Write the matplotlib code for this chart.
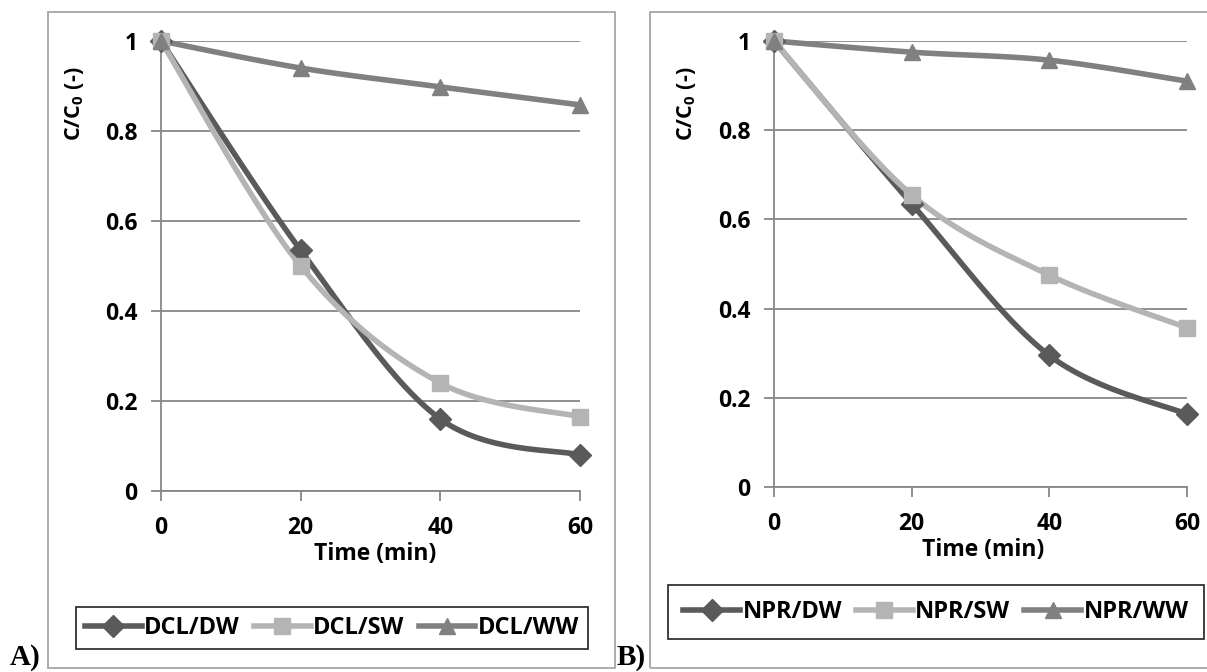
import matplotlib.pyplot as plt
import numpy as np
from matplotlib.patches import Rectangle

W, H = 1207, 672

time = [0, 20, 40, 60]

# panel A - DCL
dcl_dw = [1.0, 0.535, 0.16, 0.08]
dcl_sw = [1.0, 0.50, 0.24, 0.165]
dcl_ww = [1.0, 0.94, 0.898, 0.858]

# panel B - NPR
npr_dw = [1.0, 0.635, 0.295, 0.163]
npr_sw = [1.0, 0.655, 0.475, 0.357]
npr_ww = [1.0, 0.975, 0.957, 0.91]

yticks = [0, 0.2, 0.4, 0.6, 0.8, 1]
ytick_labels = ['0', '0.2', '0.4', '0.6', '0.8', '1']

c_dw = '#5a5a5a'
c_sw = '#b4b4b4'
c_ww = '#808080'
c_grid = '#878787'

plt.rcParams['font.family'] = ['Open Sans', 'DejaVu Sans']
plt.rcParams['font.weight'] = 'bold'
plt.rcParams['mathtext.fontset'] = 'custom'
plt.rcParams['mathtext.bf'] = 'Open Sans:bold'
plt.rcParams['mathtext.rm'] = 'Open Sans:bold'


def smooth(x, y, n=40):
  # Catmull-Rom like Excel's smoothed line
  x = np.asarray(x, float)
  y = np.asarray(y, float)
  px_ = np.concatenate([[x[0]], x, [x[-1]]])
  py_ = np.concatenate([[y[0]], y, [y[-1]]])
  xs, ys = [], []
  for i in range(1, len(px_) - 2):
    t = np.linspace(0, 1, n)
    p0, p1, p2, p3 = [np.array([px_[j], py_[j]]) for j in (i - 1, i, i + 1, i + 2)]
    b1 = p1 + (p2 - p0) / 6
    b2 = p2 - (p3 - p1) / 6
    pts = ((1 - t) ** 3)[:, None] * p1 + (3 * (1 - t) ** 2 * t)[:, None] * b1 \
        + (3 * (1 - t) * t ** 2)[:, None] * b2 + (t ** 3)[:, None] * p2
    xs.extend(pts[:, 0])
    ys.extend(pts[:, 1])
  return xs, ys


def fig_box(x0, y0, x1, y1):
  # pixel box (top-left origin) -> figure fraction [l, b, w, h]
  return [x0 / W, 1 - y1 / H, (x1 - x0) / W, (y1 - y0) / H]


fig = plt.figure(figsize=(W / 100, H / 100), dpi=100)

# panel frames
for (x0, y0, x1, y1) in [(48, 12, 615, 668), (650, 12, 1215, 668)]:
  fig.patches.append(Rectangle((x0 / W, 1 - y1 / H), (x1 - x0) / W, (y1 - y0) / H,
                               transform=fig.transFigure, fill=False,
                               edgecolor='#a6a6a6', lw=1.3))

panels = [
  dict(box=(161, 41, 580, 491), series=[(dcl_dw, 'DCL/DW'), (dcl_sw, 'DCL/SW'), (dcl_ww, 'DCL/WW')],
       ylab=(75, 103), xlab=(375, 554), leg=(332, 628), legpad=0.4, tag=(10, 'A)')),
  dict(box=(774, 41, 1187, 487), series=[(npr_dw, 'NPR/DW'), (npr_sw, 'NPR/SW'), (npr_ww, 'NPR/WW')],
       ylab=(687, 103), xlab=(983, 550), leg=(936, 612), legpad=0.65, tag=(617, 'B)')),
]

styles = [(c_dw, 'D', 11), (c_sw, 's', 12), (c_ww, '^', 12)]

for p in panels:
  ax = fig.add_axes(fig_box(*p['box']))
  handles = []
  for (vals, name), (col, mk, ms) in zip(p['series'], styles):
    sx, sy = smooth(time, vals)
    ax.plot(sx, sy, color=col, lw=4, solid_capstyle='round', clip_on=False, zorder=3)
    ax.plot(time, vals, ls='none', marker=mk, ms=ms, color=col, clip_on=False, zorder=4)
    h, = ax.plot([], [], color=col, lw=4, marker=mk, ms=ms)
    handles.append((h, name))

  ax.set_xlim(0, 60)
  ax.set_ylim(0, 1)
  ax.set_xticks(time)
  ax.set_yticks(yticks)
  ax.set_yticklabels(ytick_labels)
  ax.grid(axis='y', color=c_grid, lw=1.3)
  ax.set_axisbelow(True)
  for s in ['top', 'right']:
    ax.spines[s].set_visible(False)
  for s in ['left', 'bottom']:
    ax.spines[s].set_color(c_grid)
    ax.spines[s].set_linewidth(1.3)
  ax.tick_params(axis='both', color=c_grid, width=1.3, length=7, labelsize=16.5)
  ax.tick_params(axis='y', pad=10)
  ax.tick_params(axis='x', pad=11)

  fig.text(p['ylab'][0] / W, 1 - p['ylab'][1] / H, r'C/C$_\mathbf{0}$ (-)', rotation=90,
           ha='center', va='center', fontsize=15.5, fontweight='bold')
  fig.text(p['xlab'][0] / W, 1 - p['xlab'][1] / H, 'Time (min)',
           ha='center', va='center', fontsize=16.5, fontweight='bold')

  lx, ly = p['leg']
  leg = ax.legend([h for h, _ in handles], [n for _, n in handles], ncol=3,
                  loc='center', bbox_to_anchor=(lx / W, 1 - ly / H),
                  bbox_transform=fig.transFigure, fontsize=17, frameon=True, fancybox=False,
                  handlelength=2.4, handletextpad=0.1, columnspacing=0.6,
                  borderpad=p['legpad'], borderaxespad=0)
  leg.get_frame().set_edgecolor('black')
  leg.get_frame().set_linewidth(1.3)

  fig.text(p['tag'][0] / W, 1 - 671 / H, p['tag'][1], ha='left', va='bottom',
           fontsize=21, fontweight='bold', family='Liberation Serif')

fig.savefig('out.png', dpi=100)
